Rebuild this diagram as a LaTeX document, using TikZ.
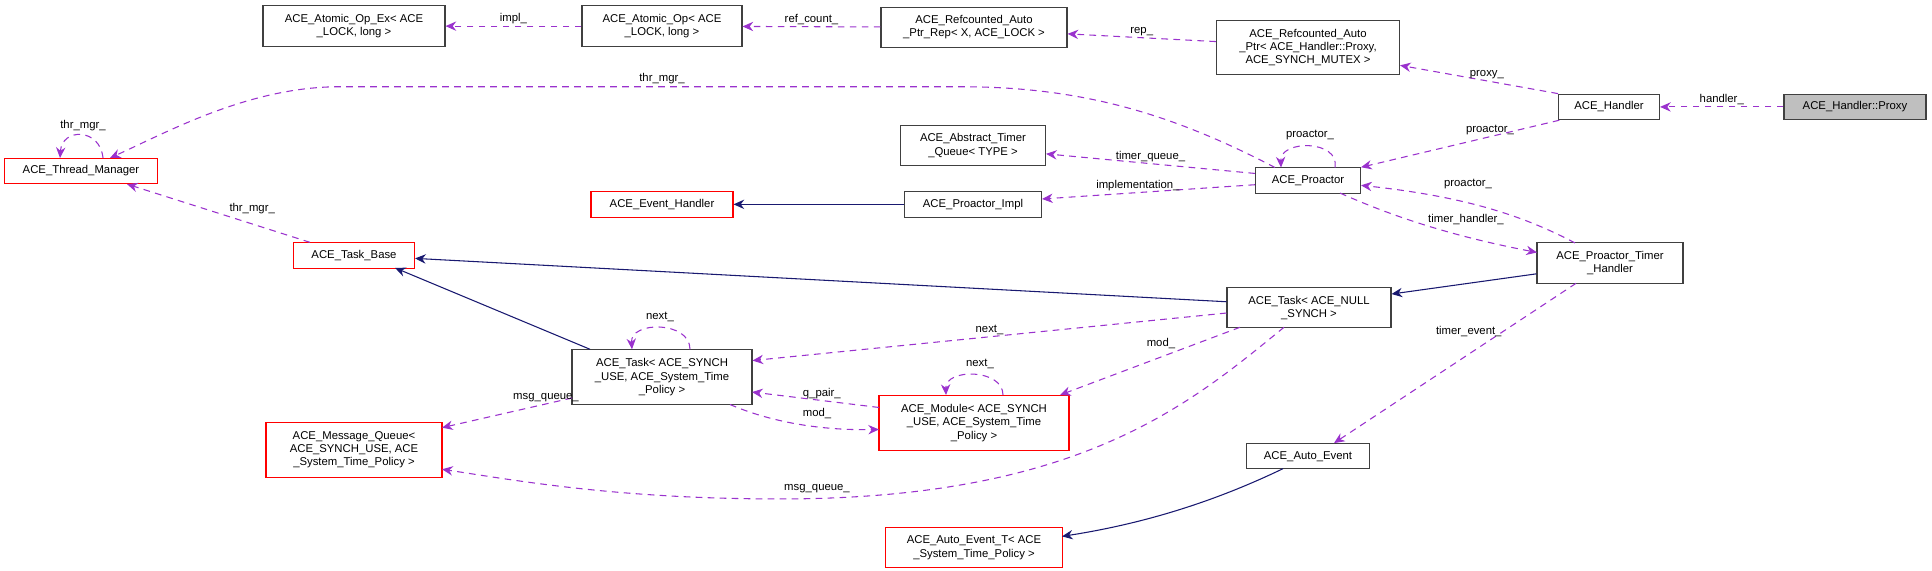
\documentclass[tikz,border=0pt]{standalone}
\usepackage{fontspec}
\setmainfont{Liberation Sans}
\usetikzlibrary{arrows.meta}
\definecolor{dep}{HTML}{9A32CD}
\definecolor{inh}{HTML}{191970}
\begin{document}
\begin{tikzpicture}[x=0.75pt,y=-0.4455pt,
  box/.style={draw=black!75,line width=0.8pt,fill=white,inner sep=0pt,align=center,font=\fontsize{8.5}{10}\selectfont},
  rbox/.style={box,draw=red},
  gbox/.style={box,fill=black!25},
  dep/.style={draw=dep,dashed,dash pattern=on 5pt off 4pt,line width=0.8pt,-{Stealth[length=8pt,width=7pt]}},
  inh/.style={draw=inh,line width=0.8pt,-{Stealth[length=8pt,width=7pt]}},
  lab/.style={font=\fontsize{8.5}{10}\selectfont,inner sep=1pt}]
\useasboundingbox (0,0) rectangle (1932,961);
\newcommand{\bx}[7][box]{\node[#1,minimum width=#6*0.75pt,minimum height=#7*0.4455pt] (#2) at (#4,#5) {#3};}
\bx{aopex}{ACE\_Atomic\_Op\_Ex< ACE\\\_LOCK, long >}{354}{44}{182}{68}
\bx{aop}{ACE\_Atomic\_Op< ACE\\\_LOCK, long >}{662}{44}{160}{68}
\bx{rrep}{ACE\_Refcounted\_Auto\\\_Ptr\_Rep< X, ACE\_LOCK >}{974}{46}{186}{68}
\bx{rptr}{ACE\_Refcounted\_Auto\\\_Ptr< ACE\_Handler::Proxy,\\ACE\_SYNCH\_MUTEX >}{1308}{80}{183}{92}
\bx{handler}{ACE\_Handler}{1609}{180}{101}{43}
\bx[gbox]{proxy}{ACE\_Handler::Proxy}{1855}{180}{142}{43}
\bx[rbox]{tm}{ACE\_Thread\_Manager}{81}{288}{153}{43}
\bx{atq}{ACE\_Abstract\_Timer\\\_Queue< TYPE >}{973}{245}{145}{68}
\bx[rbox]{eh}{ACE\_Event\_Handler}{662}{344}{142}{43}
\bx{pimpl}{ACE\_Proactor\_Impl}{973}{344}{137}{43}
\bx{pro}{ACE\_Proactor}{1308}{304}{105}{43}
\bx[rbox]{tb}{ACE\_Task\_Base}{354}{430}{121}{43}
\bx{pth}{ACE\_Proactor\_Timer\\\_Handler}{1610}{443}{146}{68}
\bx{tnull}{ACE\_Task< ACE\_NULL\\\_SYNCH >}{1309}{518}{164}{67}
\bx{tsync}{ACE\_Task< ACE\_SYNCH\\\_USE, ACE\_System\_Time\\\_Policy >}{662}{635}{180}{93}
\bx[rbox]{mod}{ACE\_Module< ACE\_SYNCH\\\_USE, ACE\_System\_Time\\\_Policy >}{974}{712}{190}{93}
\bx[rbox]{mq}{ACE\_Message\_Queue<\\ACE\_SYNCH\_USE, ACE\\\_System\_Time\_Policy >}{354}{757}{176}{93}
\bx{ae}{ACE\_Auto\_Event}{1308}{768}{123}{43}
\bx[rbox]{aet}{ACE\_Auto\_Event\_T< ACE\\\_System\_Time\_Policy >}{974}{922}{177}{68}
\draw[dep] (aop) -- node[lab,above]{impl\_} (aopex);
\draw[dep] (rrep) -- node[lab,above]{ref\_count\_} (aop);
\draw[dep] (rptr.west|-1,70) -- node[lab,above]{rep\_} (rrep.east|-1,57);
\draw[dep] (handler.north west) -- node[lab,above,pos=0.45]{proxy\_} (rptr.east|-1,110);
\draw[dep] (proxy) -- node[lab,above]{handler\_} (handler);
\draw[dep] (handler.195) -- node[lab,above,pos=0.35]{proactor\_} (pro.north east);
\draw[dep] (1335,282) .. controls (1340,235) and (1280,235) .. (1281,282);
\node[lab] at (1310,227) {proactor\_};
\draw[dep] (pro.west|-1,292) -- node[lab,above]{timer\_queue\_} (atq.east|-1,259);
\draw[dep] (pro.west|-1,311) -- node[lab,above,pos=0.55]{implementation\_} (pimpl.east|-1,335);
\draw[dep] (1275,282) .. controls (1170,190) and (1080,146) .. (960,146) -- (340,146) .. controls (250,146) and (170,220) .. (110,266);
\node[lab] at (662,132) {thr\_mgr\_};
\draw[dep] (103,266) .. controls (100,215) and (62,215) .. (60,266);
\node[lab] at (83,212) {thr\_mgr\_};
\draw[dep] (310,408) -- node[lab,above right,pos=0.45]{thr\_mgr\_} (127,310);
\draw[inh] (pimpl) -- (eh);
\draw[dep] (1575,409) .. controls (1520,360) and (1460,330) .. (1361,312);
\node[lab] at (1468,310) {proactor\_};
\draw[dep] (1340,325) .. controls (1400,370) and (1460,400) .. (1537,425);
\node[lab] at (1466,369) {timer\_handler\_};
\draw[inh] (pth.west|-1,461) -- (tnull.east|-1,495);
\draw[inh] (tnull.west|-1,508) -- (tb.east|-1,435);
\draw[inh] (590,588) -- (395,451);
\draw[dep] (tnull.west|-1,527) -- node[lab,above,pos=0.5]{next\_} (tsync.east|-1,607);
\draw[dep] (690,588) .. controls (690,540) and (630,540) .. (632,588);
\node[lab] at (660,533) {next\_};
\draw[dep] (1240,551) -- node[lab,above left,pos=0.35]{mod\_} (1060,665);
\draw[dep] (1003,665) .. controls (1003,620) and (945,620) .. (946,665);
\node[lab] at (980,612) {next\_};
\draw[dep] (879,686) -- node[lab,above,pos=0.45]{q\_pair\_} (752,660);
\draw[dep] (730,681) .. controls (770,710) and (820,725) .. (879,723);
\node[lab] at (817,696) {mod\_};
\draw[dep] (572,670) -- node[lab,above,pos=0.2]{msg\_queue\_} (442,720);
\draw[dep] (1284,551) .. controls (1190,680) and (1080,840) .. (780,840) .. controls (620,840) and (520,810) .. (442,790);
\node[lab] at (817,822) {msg\_queue\_};
\draw[dep] (1576,477) -- node[lab,left,pos=0.3]{timer\_event\_} (1334,746);
\draw[inh] (1283,789) .. controls (1220,840) and (1150,880) .. (1062,903);
\end{tikzpicture}
\end{document}
